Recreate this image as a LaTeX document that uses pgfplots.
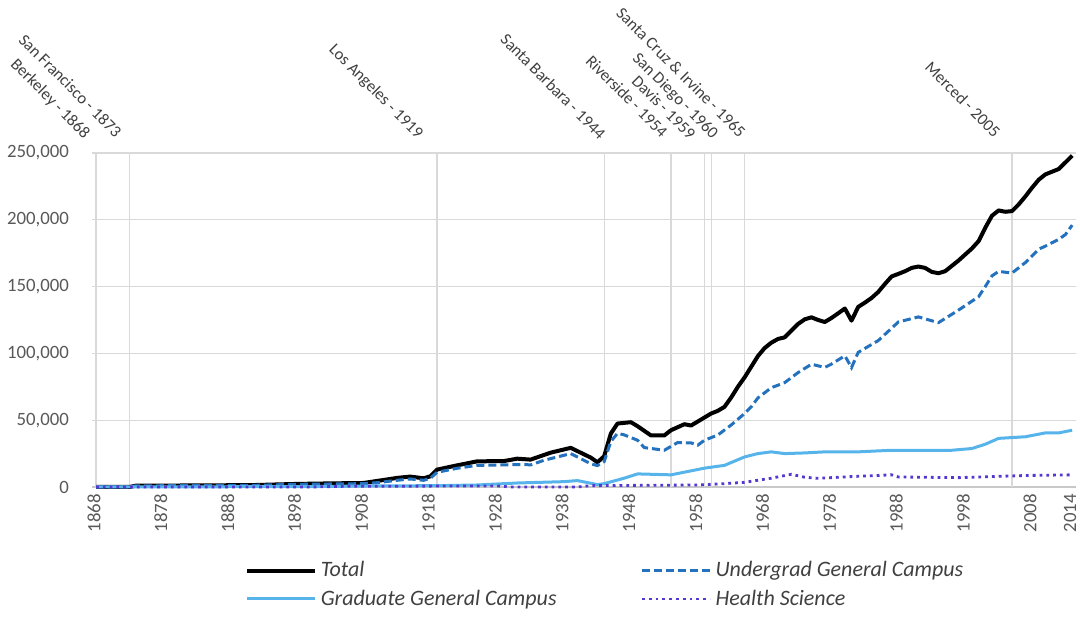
\documentclass[border=0pt]{standalone}
\usepackage{fontspec}
\setmainfont{Carlito}
\usepackage{pgfplots}
\pgfplotsset{compat=1.18}
\usepackage{pgfplotstable}
\definecolor{ugblue}{RGB}{36,114,190}
\definecolor{grblue}{RGB}{86,180,235}
\definecolor{hspurple}{RGB}{85,55,210}
\definecolor{gridgray}{RGB}{217,217,217}
\definecolor{axisgray}{RGB}{200,200,200}
\definecolor{ticktext}{RGB}{89,89,89}
\definecolor{annot}{RGB}{64,64,64}

\pgfplotstableread{
year total
1868 0
1873 0
1874 1000
1885 1200
1892 1500
1898 2300
1903 2700
1908 3000
1910 4500
1912 6000
1913 6800
1915 7800
1917 6500
1918 8000
1919 13000
1922 16200
1925 19200
1929 19400
1931 21200
1933 20500
1936 25700
1939 29300
1942 22000
1943 18500
1944 23000
1945 40000
1946 47500
1948 48500
1949 45500
1951 38600
1953 38600
1954 42500
1956 47000
1957 46000
1959 52000
1960 55000
1961 57000
1962 60000
1963 67000
1964 75000
1965 82000
1966 90000
1967 98000
1968 104000
1969 108000
1970 110800
1971 112000
1972 117000
1973 122000
1974 125500
1975 127000
1976 125000
1977 123500
1978 126500
1979 130000
1980 133600
1981 124500
1982 134800
1983 138000
1984 141500
1985 146000
1986 152000
1987 157600
1988 159500
1989 161500
1990 164000
1991 165000
1992 164000
1993 161000
1994 160000
1995 161500
1996 165500
1997 169500
1998 174000
1999 178500
2000 184000
2001 194000
2002 203000
2003 207000
2004 206000
2005 206500
2006 211500
2007 217500
2008 224000
2009 230000
2010 234000
2011 236000
2012 238000
2013 243000
2014 248000
}\totaltab

\pgfplotstableread{
year ug
1868 0
1873 0
1874 900
1885 1000
1892 1300
1898 2000
1908 2500
1910 3200
1913 5000
1915 6000
1917 5000
1918 6500
1919 11000
1922 14000
1925 16200
1929 16500
1932 16900
1933 16500
1935 20000
1939 25000
1942 17400
1943 16000
1944 19000
1945 34000
1946 40200
1947 39000
1949 35000
1950 29500
1953 27500
1955 33300
1957 33000
1958 31300
1959 35000
1961 38900
1963 46400
1965 55000
1966 60000
1967 66700
1969 74300
1971 78100
1973 85600
1975 91900
1977 89500
1978 92000
1980 98200
1981 89400
1982 100800
1985 109600
1988 123500
1991 127300
1994 123000
1997 132400
2000 142400
2001 150000
2002 158000
2003 161400
2005 160100
2007 168000
2009 178000
2010 180300
2012 185400
2013 189000
2014 196000
}\ugtab

\pgfplotstableread{
year grad
1868 0
1900 300
1910 800
1919 1000
1925 1500
1931 3000
1938 4000
1940 4800
1942 2800
1943 1800
1944 2500
1947 6600
1949 9800
1954 9100
1959 14100
1962 16200
1965 22500
1967 25000
1969 26300
1971 25000
1974 25500
1977 26300
1982 26300
1987 27500
1992 27500
1996 27500
1999 28800
2001 32000
2003 36400
2007 37600
2010 40500
2012 40500
2014 42500
}\gradtab

\pgfplotstableread{
year hs
1868 0
1900 0
1905 500
1928 800
1930 0
1940 0
1942 1000
1958 1500
1962 2500
1965 3500
1969 6600
1972 9500
1974 7300
1976 6500
1981 7800
1987 9100
1988 7500
1997 7000
2007 8600
2014 9100
}\hstab

\newcommand{\annotfont}{\fontsize{8.3}{10}\selectfont}
\newcommand{\tickfont}{\fontsize{9.4}{11}\selectfont}
\newcommand{\legfont}{\fontsize{11}{13}\selectfont\itshape}

\begin{document}
\begin{tikzpicture}
\useasboundingbox (-46pt,-66pt) rectangle (494pt,243.5pt);
\begin{axis}[
  anchor=south west, at={(0pt,0pt)},
  scale only axis, width=491.75pt, height=167pt,
  xmin=1867.4, xmax=2014.5, ymin=0, ymax=250000,
  scaled x ticks=false, scaled y ticks=false,
  axis lines*=left,
  y axis line style={draw=none},
  x axis line style={axisgray, line width=0.8pt},
  major tick length=0pt,
  xtick={1868,1878,1888,1898,1908,1918,1928,1938,1948,1958,1968,1978,1988,1998,2008,2014},
  xticklabels={1868,1878,1888,1898,1908,1918,1928,1938,1948,1958,1968,1978,1988,1998,2008,2014},
  xticklabel style={rotate=90, anchor=east, font=\tickfont, text=ticktext, yshift=1pt},
  ytick={0,50000,100000,150000,200000,250000},
  yticklabels={0,{50,000},{100,000},{150,000},{200,000},{250,000}},
  yticklabel style={font=\tickfont, text=ticktext, xshift=-8pt},
  ymajorgrids,
  grid style={gridgray, line width=0.6pt},
  clip=false,
  legend columns=2,
  legend cell align=left,
  legend image code/.code={\draw[#1] (0pt,0pt) -- (34pt,0pt);},
  legend style={draw=none, fill=none, at={(axis description cs:0.155,-0.21)}, anchor=north west,
    font=\legfont, text=annot, inner sep=0pt, row sep=1pt,
    /tikz/every even column/.append style={column sep=40pt}},
]
\addplot[gridgray, line width=0.6pt, forget plot] coordinates {(1868,0) (1868,250000)};
\addplot[gridgray, line width=0.6pt, forget plot] coordinates {(1873,0) (1873,250000)};
\addplot[gridgray, line width=0.6pt, forget plot] coordinates {(1919,0) (1919,250000)};
\addplot[gridgray, line width=0.6pt, forget plot] coordinates {(1944,0) (1944,250000)};
\addplot[gridgray, line width=0.6pt, forget plot] coordinates {(1954,0) (1954,250000)};
\addplot[gridgray, line width=0.6pt, forget plot] coordinates {(1959,0) (1959,250000)};
\addplot[gridgray, line width=0.6pt, forget plot] coordinates {(1960,0) (1960,250000)};
\addplot[gridgray, line width=0.6pt, forget plot] coordinates {(1965,0) (1965,250000)};
\addplot[gridgray, line width=0.6pt, forget plot] coordinates {(2005,0) (2005,250000)};

\addplot[black, line width=2pt, line join=round] table[x=year, y=total] {\totaltab};
\addlegendentry{Total}
\addplot[ugblue, line width=1.5pt, dash pattern=on 4pt off 2pt] table[x=year, y=ug] {\ugtab};
\addlegendentry{Undergrad General Campus}
\addplot[grblue, line width=1.5pt, line join=round] table[x=year, y=grad] {\gradtab};
\addlegendentry{Graduate General Campus}
\addplot[hspurple, line width=1.4pt, dash pattern=on 1.4pt off 2pt] table[x=year, y=hs] {\hstab};
\addlegendentry{Health Science}

\node[rotate=-45, anchor=east, font=\annotfont, text=annot, inner sep=0pt] at (axis cs:1866.65,262500) {Berkeley - 1868};
\node[rotate=-45, anchor=east, font=\annotfont, text=annot, inner sep=0pt] at (axis cs:1871.44,264000) {San Francisco - 1873};
\node[rotate=-45, anchor=east, font=\annotfont, text=annot, inner sep=0pt] at (axis cs:1916.47,262500) {Los Angeles - 1919};
\node[rotate=-45, anchor=east, font=\annotfont, text=annot, inner sep=0pt] at (axis cs:1943.84,262500) {Santa Barbara - 1944};
\node[rotate=-45, anchor=east, font=\annotfont, text=annot, inner sep=0pt] at (axis cs:1953.12,264000) {Riverside - 1954};
\node[rotate=-45, anchor=east, font=\annotfont, text=annot, inner sep=0pt] at (axis cs:1957.3,262500) {Davis - 1959};
\node[rotate=-45, anchor=east, font=\annotfont, text=annot, inner sep=0pt] at (axis cs:1960.6,262500) {San Diego - 1960};
\node[rotate=-45, anchor=east, font=\annotfont, text=annot, inner sep=0pt] at (axis cs:1964.8,264000) {Santa Cruz \& Irvine - 1965};
\node[rotate=-45, anchor=east, font=\annotfont, text=annot, inner sep=0pt] at (axis cs:2002.9,264000) {Merced - 2005};
\end{axis}
\end{tikzpicture}
\end{document}
